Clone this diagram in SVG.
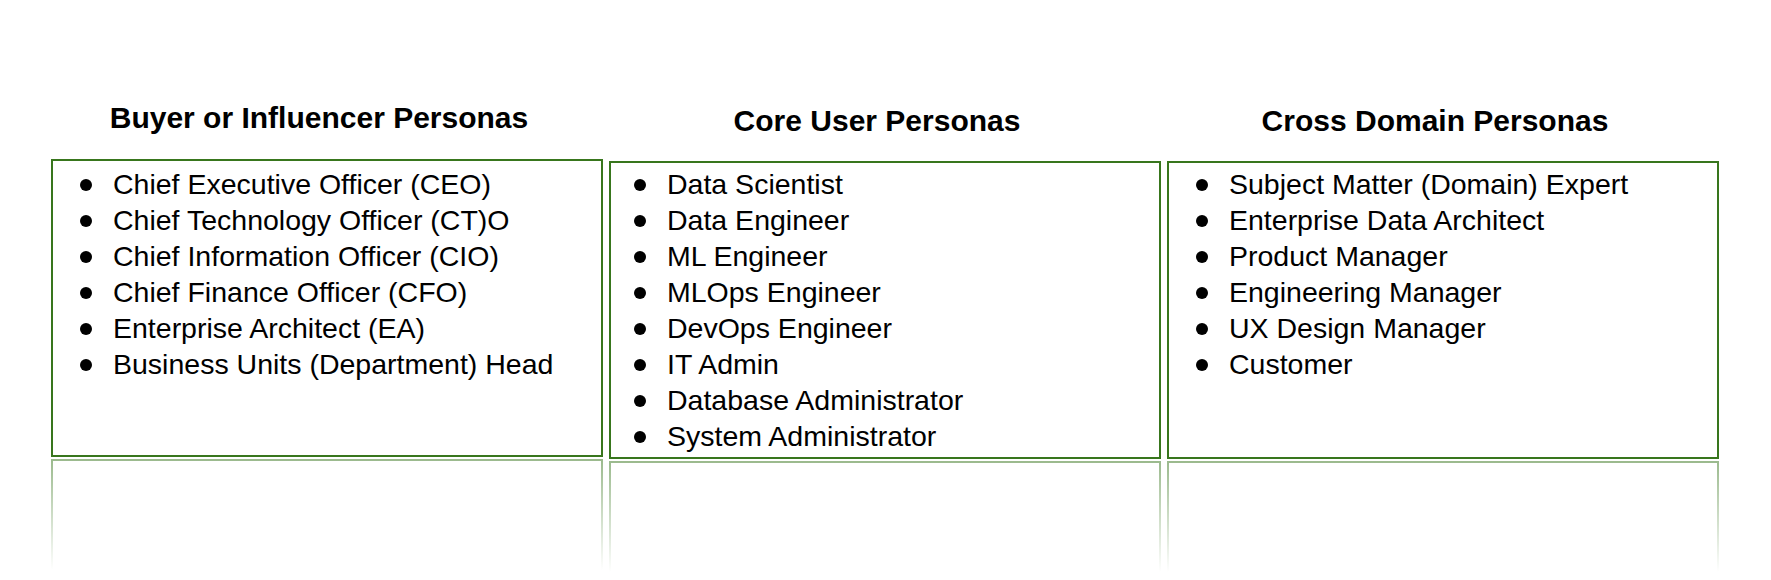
<svg xmlns="http://www.w3.org/2000/svg" width="1771" height="580" viewBox="0 0 1771 580">
<style>
.box{fill:#fff;stroke:#38761d;stroke-width:2}
.refl{fill:none;stroke:url(#fade);stroke-width:2}
.title{font-family:"Liberation Sans",Arial,sans-serif;font-weight:bold;font-size:30px;fill:#000;text-anchor:middle}
.item{font-family:"Liberation Sans",Arial,sans-serif;font-size:28.5px;fill:#000}
.dot{fill:#000}
</style>
<defs>
<linearGradient id="fade" x1="0" y1="0" x2="0" y2="1">
<stop offset="0" stop-color="#38761d" stop-opacity="0.5"/>
<stop offset="1" stop-color="#38761d" stop-opacity="0"/>
</linearGradient>
</defs>
<rect width="1771" height="580" fill="#fff"/>
<g id="buyer-personas">
<text class="title" x="319" y="128">Buyer or Influencer Personas</text>
<rect class="box" x="52" y="160" width="550" height="296"/>
<path class="refl" d="M52,570 V460 H602 V570"/>
<circle class="dot" cx="86" cy="185" r="6"/>
<circle class="dot" cx="86" cy="221" r="6"/>
<circle class="dot" cx="86" cy="257" r="6"/>
<circle class="dot" cx="86" cy="293" r="6"/>
<circle class="dot" cx="86" cy="329" r="6"/>
<circle class="dot" cx="86" cy="365" r="6"/>
<text class="item" x="113" y="194">Chief Executive Officer (CEO)</text>
<text class="item" x="113" y="230">Chief Technology Officer (CT)O</text>
<text class="item" x="113" y="266">Chief Information Officer (CIO)</text>
<text class="item" x="113" y="302">Chief Finance Officer (CFO)</text>
<text class="item" x="113" y="338">Enterprise Architect (EA)</text>
<text class="item" x="113" y="374">Business Units (Department) Head</text>
</g>
<g id="core-user-personas">
<text class="title" x="877" y="131">Core User Personas</text>
<rect class="box" x="610" y="162" width="550" height="296"/>
<path class="refl" d="M610,572 V462 H1160 V572"/>
<circle class="dot" cx="640" cy="185" r="6"/>
<circle class="dot" cx="640" cy="221" r="6"/>
<circle class="dot" cx="640" cy="257" r="6"/>
<circle class="dot" cx="640" cy="293" r="6"/>
<circle class="dot" cx="640" cy="329" r="6"/>
<circle class="dot" cx="640" cy="365" r="6"/>
<circle class="dot" cx="640" cy="401" r="6"/>
<circle class="dot" cx="640" cy="437" r="6"/>
<text class="item" x="667" y="194">Data Scientist</text>
<text class="item" x="667" y="230">Data Engineer</text>
<text class="item" x="667" y="266">ML Engineer</text>
<text class="item" x="667" y="302">MLOps Engineer</text>
<text class="item" x="667" y="338">DevOps Engineer</text>
<text class="item" x="667" y="374">IT Admin</text>
<text class="item" x="667" y="410">Database Administrator</text>
<text class="item" x="667" y="446">System Administrator</text>
</g>
<g id="cross-domain-personas">
<text class="title" x="1435" y="131">Cross Domain Personas</text>
<rect class="box" x="1168" y="162" width="550" height="296"/>
<path class="refl" d="M1168,572 V462 H1718 V572"/>
<circle class="dot" cx="1202" cy="185" r="6"/>
<circle class="dot" cx="1202" cy="221" r="6"/>
<circle class="dot" cx="1202" cy="257" r="6"/>
<circle class="dot" cx="1202" cy="293" r="6"/>
<circle class="dot" cx="1202" cy="329" r="6"/>
<circle class="dot" cx="1202" cy="365" r="6"/>
<text class="item" x="1229" y="194">Subject Matter (Domain) Expert</text>
<text class="item" x="1229" y="230">Enterprise Data Architect</text>
<text class="item" x="1229" y="266">Product Manager</text>
<text class="item" x="1229" y="302">Engineering Manager</text>
<text class="item" x="1229" y="338">UX Design Manager</text>
<text class="item" x="1229" y="374">Customer</text>
</g>
</svg>
